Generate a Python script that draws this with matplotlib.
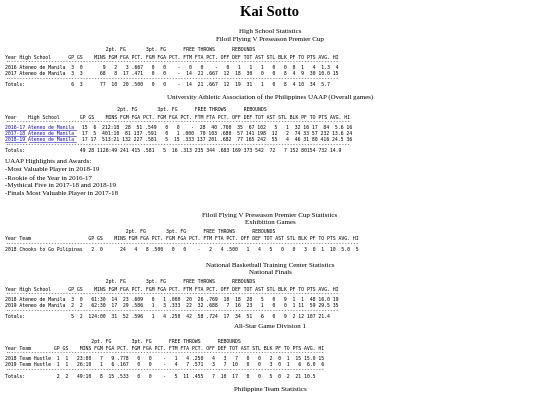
import matplotlib
matplotlib.use("Agg")
import matplotlib.pyplot as plt

W, H = 540, 405
fig = plt.figure(figsize=(5.4, 4.05), dpi=100)
ax = fig.add_axes([0, 0, 1, 1])
ax.set_xlim(0, W); ax.set_ylim(H, 0); ax.axis("off")

MONO = "DejaVu Sans Mono"
SERIF = "Liberation Serif"
FS = 3.55
CW = FS / 72 * 100 * 0.602
BLUE = "#1a0dab"

STAT_W = [3, 3, 8, 4, 4, 5, 4, 4, 5, 4, 4, 5, 4, 4, 4, 4, 4, 4, 3, 3, 4, 5, 3]
HDR = ["GP", "GS", "MINS", "FGM", "FGA", "PCT.", "FGM", "FGA", "PCT.", "FTM", "FTA", "PCT.",
       "OFF", "DEF", "TOT", "AST", "STL", "BLK", "PF", "TO", "PTS", "AVG.", "HI"]

# ---- data ----
hs_labels = ["2016 Ateneo de Manila", "2017 Ateneo de Manila", "Totals:"]
hs_rows = [
    ["3", "0", "9", "2", "3", ".667", "0", "0", "-", "0", "0", "-", "0", "1", "1", "1", "0", "0", "0", "1", "4", "1.3", "4"],
    ["3", "3", "68", "8", "17", ".471", "0", "0", "-", "14", "21", ".667", "12", "18", "30", "0", "0", "8", "4", "9", "30", "10.0", "15"],
    ["6", "3", "77", "10", "20", ".500", "0", "0", "-", "14", "21", ".667", "12", "19", "31", "1", "0", "8", "4", "10", "34", "5.7", ""],
]
uaap_labels = ["2016-17 Ateneo de Manila", "2017-18 Ateneo de Manila", "2018-19 Ateneo de Manila", "Totals:"]
uaap_rows = [
    ["15", "6", "212:18", "28", "51", ".549", "0", "0", "-", "28", "40", ".700", "35", "67", "102", "5", "1", "32", "16", "17", "84", "5.6", "16"],
    ["17", "5", "401:10", "81", "137", ".591", "0", "1", ".000", "70", "103", ".680", "57", "141", "198", "12", "2", "74", "33", "57", "232", "13.6", "24"],
    ["17", "17", "513:21", "132", "227", ".581", "5", "15", ".333", "137", "201", ".682", "77", "165", "242", "55", "4", "46", "31", "80", "416", "24.5", "36"],
    ["49", "28", "1126:49", "241", "415", ".581", "5", "16", ".313", "235", "344", ".683", "169", "373", "542", "72", "7", "152", "80", "154", "732", "14.9", ""],
]
awards = ["UAAP Highlights and Awards:", "-Most Valuable Player in 2018-19", "-Rookie of the Year in 2016-17",
          "-Mythical Five in 2017-18 and 2018-19", "-Finals Most Valuable Player in 2017-18"]
fil_labels = ["2018 Chooks to Go Pilipinas"]
fil_rows = [["2", "0", "24", "4", "8", ".500", "0", "0", "-", "2", "4", ".500", "1", "4", "5", "0", "0", "3", "0", "1", "10", "5.0", "5"]]
nbtc_labels = ["2018 Ateneo de Manila", "2019 Ateneo de Manila", "Totals:"]
nbtc_rows = [
    ["3", "0", "61:30", "14", "23", ".609", "0", "1", ".000", "20", "26", ".769", "10", "18", "28", "5", "0", "9", "1", "1", "48", "16.0", "19"],
    ["2", "2", "62:30", "17", "29", ".586", "1", "3", ".333", "22", "32", ".688", "7", "16", "23", "1", "0", "0", "1", "11", "59", "29.5", "35"],
    ["5", "2", "124:00", "31", "52", ".596", "1", "4", ".250", "42", "58", ".724", "17", "34", "51", "6", "0", "9", "2", "12", "107", "21.4", ""],
]
as_labels = ["2018 Team Hustle", "2019 Team Hustle", "Totals:"]
as_rows = [
    ["1", "1", "23:00", "7", "9", ".778", "0", "0", "-", "1", "4", ".250", "4", "3", "7", "0", "0", "2", "0", "1", "15", "15.0", "15"],
    ["1", "1", "26:10", "1", "6", ".167", "0", "0", "-", "4", "7", ".571", "3", "7", "10", "0", "0", "3", "0", "1", "6", "6.0", "6"],
    ["2", "2", "49:10", "8", "15", ".533", "0", "0", "-", "5", "11", ".455", "7", "10", "17", "0", "0", "5", "0", "2", "21", "10.5", ""],
]

def fmt(vals):
    return "".join(str(v).rjust(w) for v, w in zip(vals, STAT_W))

def mono(x, y, s, color="black"):
    ax.text(x, y, s, family=MONO, fontsize=FS, va="center", ha="left", color=color)

def serif(x, y, s, ha="center", size=5.0):
    ax.text(x, y, s, family=SERIF, fontsize=size, va="center", ha=ha)

def table(y0, lab_w, first_hdr, labels, rows, dy, totals=True, links=False):
    x = 5
    pre = " " * lab_w
    grp = pre + " " * 14 + "2pt. FG" + " " * 7 + "3pt. FG" + " " * 6 + "FREE THROWS" + " " * 6 + "REBOUNDS"
    mono(x, y0, grp)
    hdr = first_hdr.ljust(lab_w) + fmt(HDR)
    mono(x, y0 + 7, hdr)
    n = len(hdr)
    dash = "-" * n
    y = y0 + 12
    mono(x, y, dash)
    y += 5.5
    data_n = len(rows) - (1 if totals else 0)
    for i in range(data_n):
        line = fmt(rows[i])
        if links:
            mono(x + lab_w * CW, y, line)
            mono(x, y, labels[i], color=BLUE)
            ax.plot([x, x + 7 * CW], [y + 2.6, y + 2.6], color=BLUE, lw=0.4)
            ax.plot([x + 8 * CW, x + 24 * CW], [y + 2.6, y + 2.6], color=BLUE, lw=0.4)
        else:
            mono(x, y, labels[i].ljust(lab_w) + line)
        y += dy
    if totals:
        y -= dy - 5.5
        mono(x, y, dash)
        y += 6
        mono(x, y, labels[-1].ljust(lab_w) + fmt(rows[-1]))

ax.text(270, 12, "Kai Sotto", family=SERIF, fontsize=10.5, fontweight="bold", ha="center", va="center")

serif(270, 32, "High School Statistics")
serif(270, 40, "Filoil Flying V Preseason Premier Cup")
table(50, 21, "Year High School", hs_labels, hs_rows, 6)

serif(270, 97, "University Athletic Association of the Philippines UAAP (Overall games)")
table(110, 25, "Year    High School", uaap_labels, uaap_rows, 6, links=True)

for i, s in enumerate(awards):
    serif(5, 162 + 8 * i, s, ha="left")

serif(270, 215, "Filoil Flying V Preseason Premier Cup Statistics")
serif(270, 222, "Exhibition Games")
table(232, 28, "Year Team", fil_labels, fil_rows, 6, totals=False)

serif(270, 265, "National Basketball Training Center Statistics")
serif(270, 272, "National Finals")
table(282, 21, "Year High School", nbtc_labels, nbtc_rows, 6)

serif(270, 327, "All-Star Game Division 1")
table(341, 16, "Year Team", as_labels, as_rows, 6)

serif(270, 390, "Philippine Team Statistics")

fig.savefig("out.png", dpi=100)
